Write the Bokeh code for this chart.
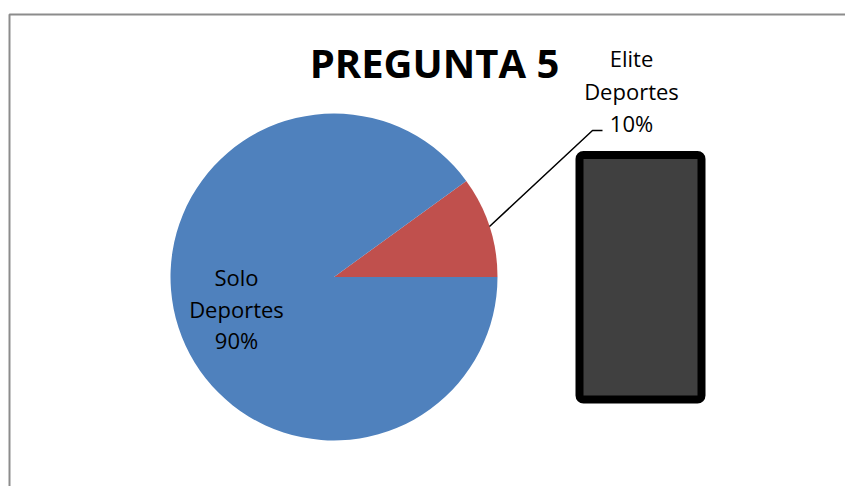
import math
from bokeh.plotting import figure
from bokeh.models import Range1d, BoxAnnotation
from bokeh.core.properties import value
from bokeh.embed import file_html
from bokeh.resources import INLINE

# ---- data ----
title_text = "PREGUNTA 5"
categories = ["Elite Deportes", "Solo Deportes"]
percentages = [10, 90]
colors = ["#C0504D", "#4F81BD"]

W, H = 845, 486

def Y(py):
    # page-pixel y (from top) -> data y
    return H - py

def X(px):
    return px

p = figure(width=W, height=H, output_backend="svg", toolbar_location=None,
           x_range=Range1d(0, W), y_range=Range1d(0, H), min_border=0)
p.axis.visible = False
p.grid.visible = False
p.outline_line_color = None
p.background_fill_color = "white"
p.border_fill_color = "white"

# chart frame (only top and left edges visible in the window)
p.line([X(9), X(9), X(845)], [Y(486), Y(14), Y(14)], line_color="#8c8c8c", line_width=2)

# pie wedges from data
total = sum(percentages)
start = 0.0
starts, ends = [], []
for v in percentages:
    a = 2 * math.pi * v / total
    starts.append(start)
    ends.append(start + a)
    start += a

cx, cy, r = X(333.5), Y(276.5), 163.5
p.wedge(x=[cx] * len(categories), y=[cy] * len(categories), radius=r,
        start_angle=starts, end_angle=ends, direction="anticlock",
        fill_color=colors, line_color=None)

# title
p.text(x=[X(434)], y=[Y(61.5)], text=[title_text], text_align="center",
       text_baseline="alphabetic", text_font=value("Open Sans"),
       text_font_style="bold", text_font_size="40px", text_color="black")

# labels
def label_lines(cat, pct):
    return cat.split(" ") + [f"{pct}%"]

elite_lines = label_lines(categories[0], percentages[0])
solo_lines = label_lines(categories[1], percentages[1])

p.text(x=[X(631)] * 3, y=[Y(57.5), Y(90), Y(122.5)], text=elite_lines,
       text_align="center", text_baseline="alphabetic",
       text_font=value("Open Sans"), text_font_size="22px", text_color="black")
p.text(x=[X(236)] * 3, y=[Y(276.5), Y(308), Y(339.5)], text=solo_lines,
       text_align="center", text_baseline="alphabetic",
       text_font=value("Open Sans"), text_font_size="22px", text_color="black")

# leader line
p.line([X(489), X(592), X(602)], [Y(226), Y(130), Y(130)], line_color="black", line_width=1.5)

# (empty) legend box
box = BoxAnnotation(left=X(579), right=X(701), top=Y(154.5), bottom=Y(399),
                    fill_color="#404040", fill_alpha=1.0,
                    line_color="black", line_width=8, line_alpha=1.0,
                    border_radius=4)
p.add_layout(box)

open("out.html", "w").write(file_html(p, INLINE))
